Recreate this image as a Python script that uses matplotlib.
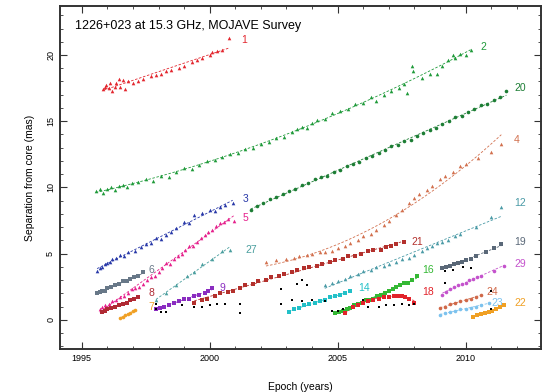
import numpy as np
import matplotlib
matplotlib.use('Agg')
import matplotlib.pyplot as plt
from matplotlib.ticker import MultipleLocator

plt.rcParams['font.family'] = ['Liberation Sans', 'DejaVu Sans']

# component positions: epoch (yr) and separation from core (mas)
c1_yr = [1995.85, 1995.9, 1995.95, 1996.05, 1996.1, 1996.2, 1996.3, 1996.35, 1996.45, 1996.5,
         1996.6, 1996.7, 1996.8, 1997.0, 1997.2, 1997.4, 1997.7, 1997.9, 1998.1, 1998.3,
         1998.5, 1998.8, 1999.0, 1999.3, 1999.5, 1999.7, 2000.0, 2000.1, 2000.3, 2000.5,
         2000.75]
c1_sep = [17.4, 17.6, 17.7, 17.5, 17.9, 17.3, 17.6, 17.9, 18.2, 17.6,
          18.1, 17.4, 18.0, 17.9, 18.0, 18.2, 18.4, 18.5, 18.6, 18.8,
          18.9, 19.0, 19.2, 19.5, 19.6, 19.8, 20.0, 20.2, 20.3, 20.4,
          21.3]

c2_yr = [1995.55, 1995.7, 1995.85, 1996.0, 1996.15, 1996.3, 1996.45, 1996.6, 1996.75, 1996.95,
         1997.2, 1997.5, 1997.8, 1998.1, 1998.4, 1998.7, 1999.0, 1999.3, 1999.6, 1999.9,
         2000.2, 2000.5, 2000.8, 2001.1, 2001.4, 2001.7, 2002.0, 2002.3, 2002.6, 2002.9,
         2003.2, 2003.4, 2003.6, 2003.8, 2004.0, 2004.2, 2004.5, 2004.8, 2005.1, 2005.4,
         2005.7, 2006.0, 2006.3, 2006.5, 2006.8, 2007.1, 2007.4, 2007.6, 2007.7, 2007.9,
         2007.95, 2008.3, 2008.6, 2008.9, 2009.1, 2009.3, 2009.5, 2009.6, 2009.8, 2010.0,
         2010.2]
c2_sep = [9.7, 9.9, 9.6, 9.9, 10.0, 9.8, 10.1, 10.2, 10.0, 10.3,
          10.4, 10.6, 10.5, 10.9, 10.8, 11.2, 11.5, 11.4, 11.7, 12.0,
          12.1, 12.3, 12.5, 12.6, 12.9, 13.0, 13.3, 13.4, 13.7, 13.8,
          14.2, 14.4, 14.6, 14.5, 14.9, 15.1, 15.2, 15.6, 15.8, 15.9,
          16.3, 16.4, 16.8, 16.5, 17.0, 17.3, 17.5, 17.8, 17.1, 19.2,
          18.8, 18.3, 18.6, 18.6, 19.2, 19.6, 20.0, 19.8, 20.1, 20.0,
          20.4]

c20_yr = [2001.6, 2001.85, 2002.1, 2002.35, 2002.6, 2002.85, 2003.1, 2003.35, 2003.6, 2003.85,
          2004.1, 2004.35, 2004.6, 2004.85, 2005.1, 2005.35, 2005.6, 2005.85, 2006.1, 2006.35,
          2006.6, 2006.85, 2007.1, 2007.35, 2007.6, 2007.85, 2008.1, 2008.35, 2008.6, 2008.85,
          2009.1, 2009.35, 2009.6, 2009.85, 2010.1, 2010.35, 2010.6, 2010.85, 2011.1, 2011.35,
          2011.6]
c20_sep = [8.3, 8.6, 8.8, 9.1, 9.3, 9.5, 9.7, 9.9, 10.2, 10.3,
           10.6, 10.8, 10.9, 11.2, 11.3, 11.6, 11.8, 11.9, 12.2, 12.4,
           12.6, 12.8, 13.1, 13.2, 13.5, 13.6, 13.9, 14.1, 14.3, 14.5,
           14.8, 15.0, 15.3, 15.4, 15.7, 15.9, 16.2, 16.3, 16.6, 16.8,
           17.3]

c3_yr = [1995.6, 1995.7, 1995.8, 1995.9, 1996.0, 1996.1, 1996.2, 1996.35, 1996.5, 1996.65,
         1996.8, 1997.1, 1997.3, 1997.5, 1997.7, 1997.9, 1998.1, 1998.3, 1998.5, 1998.7,
         1999.0, 1999.2, 1999.4, 1999.7, 2000.0, 2000.2, 2000.4, 2000.6, 2000.9]
c3_sep = [3.7, 3.9, 4.0, 4.2, 4.3, 4.4, 4.6, 4.7, 4.9, 4.8,
          5.1, 5.2, 5.5, 5.7, 5.8, 6.2, 6.1, 6.4, 6.6, 6.9,
          7.4, 7.3, 7.9, 8.1, 8.3, 8.2, 8.5, 8.7, 8.8]

c5_yr = [1995.7, 1995.8, 1995.9, 1996.05, 1996.2, 1996.35, 1996.5, 1996.65, 1996.8, 1996.95,
         1997.1, 1997.25, 1997.4, 1997.55, 1997.7, 1997.85, 1998.0, 1998.15, 1998.3, 1998.45,
         1998.6, 1998.75, 1998.9, 1999.05, 1999.2, 1999.35, 1999.5, 1999.65, 1999.8, 1999.95,
         2000.1, 2000.25, 2000.4, 2000.55, 2000.7, 2000.95]
c5_sep = [0.8, 1.0, 1.1, 1.2, 1.4, 1.5, 1.7, 1.8, 2.0, 2.3,
          2.4, 2.5, 2.7, 3.0, 3.2, 3.3, 3.6, 3.9, 4.3, 4.2,
          4.6, 4.8, 5.0, 5.3, 5.6, 5.6, 5.9, 6.2, 6.4, 6.6,
          6.8, 7.1, 7.3, 7.4, 7.6, 7.5]

c27_yr = [1997.9, 1998.3, 1998.7, 1999.1, 1999.4, 1999.7, 2000.1, 2000.5, 2000.8]
c27_sep = [1.5, 2.0, 2.6, 3.3, 3.6, 4.2, 4.6, 5.2, 5.3]

c6_yr = [1995.6, 1995.7, 1995.8, 1995.9, 1996.0, 1996.15, 1996.3, 1996.45, 1996.6, 1996.75,
         1996.9, 1997.05, 1997.2, 1997.4]
c6_sep = [2.0, 2.1, 2.2, 2.2, 2.4, 2.5, 2.6, 2.7, 2.9, 2.9,
          3.1, 3.2, 3.3, 3.6]

c8_yr = [1995.8, 1995.9, 1996.0, 1996.15, 1996.3, 1996.45, 1996.6, 1996.75, 1996.9, 1997.05,
         1997.2]
c8_sep = [0.6, 0.7, 0.8, 0.9, 1.0, 1.1, 1.2, 1.3, 1.5, 1.6, 1.7]

c7_yr = [1996.5, 1996.6, 1996.7, 1996.8, 1996.9, 1997.0, 1997.1]
c7_sep = [0.15, 0.25, 0.35, 0.45, 0.55, 0.65, 0.75]

c9_yr = [1997.9, 1998.05, 1998.2, 1998.4, 1998.6, 1998.8, 1999.0, 1999.2, 1999.4, 1999.6,
         1999.8, 1999.95, 2000.1]
c9_sep = [0.8, 0.9, 1.0, 1.1, 1.3, 1.4, 1.6, 1.6, 1.8, 1.9, 2.0, 2.2, 2.4]

c21_yr = [1999.4, 1999.7, 1999.9, 2000.2, 2000.4, 2000.7, 2000.9, 2001.2, 2001.4, 2001.7,
          2001.9, 2002.2, 2002.4, 2002.7, 2002.9, 2003.2, 2003.4, 2003.7, 2003.9, 2004.2,
          2004.4, 2004.7, 2004.9, 2005.2, 2005.4, 2005.7, 2005.9, 2006.2, 2006.4, 2006.7,
          2006.9, 2007.1, 2007.3, 2007.6]
c21_sep = [1.3, 1.5, 1.6, 1.8, 2.0, 2.1, 2.2, 2.4, 2.6, 2.7,
           2.9, 3.0, 3.2, 3.3, 3.5, 3.6, 3.8, 3.9, 4.0, 4.1,
           4.2, 4.4, 4.5, 4.6, 4.8, 4.8, 5.0, 5.2, 5.3, 5.3,
           5.5, 5.6, 5.7, 5.9]

c4_yr = [2002.2, 2002.6, 2003.0, 2003.3, 2003.5, 2003.8, 2004.0, 2004.3, 2004.5, 2004.8,
         2005.0, 2005.3, 2005.5, 2005.8, 2006.0, 2006.3, 2006.5, 2006.8, 2007.0, 2007.3,
         2007.5, 2007.8, 2008.0, 2008.2, 2008.5, 2008.7, 2009.0, 2009.2, 2009.5, 2009.8,
         2010.0, 2010.5, 2011.0, 2011.4]
c4_sep = [4.4, 4.5, 4.6, 4.7, 4.8, 4.9, 5.0, 5.1, 5.1, 5.2,
          5.4, 5.6, 5.8, 6.0, 6.3, 6.5, 6.8, 7.2, 7.5, 7.9,
          8.3, 8.8, 9.2, 9.5, 9.8, 10.1, 10.6, 10.9, 11.2, 11.6,
          11.8, 12.2, 12.7, 13.3]

c12_yr = [2004.5, 2004.8, 2005.0, 2005.3, 2005.5, 2005.8, 2006.0, 2006.3, 2006.5, 2006.8,
          2007.0, 2007.3, 2007.5, 2007.8, 2008.0, 2008.3, 2008.5, 2008.7, 2008.9, 2009.1,
          2009.3, 2009.6, 2009.8, 2010.4, 2011.0, 2011.4]
c12_sep = [2.6, 2.8, 2.9, 3.1, 3.3, 3.5, 3.7, 3.8, 4.0, 4.1,
           4.2, 4.4, 4.6, 4.7, 4.9, 5.2, 5.4, 5.6, 5.8, 5.9,
           6.0, 6.3, 6.5, 7.0, 7.8, 8.5]

c19_yr = [2009.1, 2009.25, 2009.4, 2009.55, 2009.7, 2009.85, 2010.0, 2010.2, 2010.4, 2010.8,
          2011.1, 2011.4]
c19_sep = [3.9, 4.0, 4.1, 4.2, 4.3, 4.4, 4.5, 4.6, 4.8, 5.1, 5.4, 5.7]

c29_yr = [2009.1, 2009.25, 2009.4, 2009.55, 2009.7, 2009.85, 2010.0, 2010.15, 2010.3, 2010.45,
          2010.6, 2011.1, 2011.5]
c29_sep = [1.9, 2.1, 2.3, 2.5, 2.6, 2.7, 2.8, 3.0, 3.1, 3.2, 3.3, 3.7, 4.1]

c16_yr = [2004.9, 2005.05, 2005.2, 2005.35, 2005.5, 2005.65, 2005.8, 2005.95, 2006.1, 2006.25,
          2006.4, 2006.55, 2006.7, 2006.85, 2007.0, 2007.15, 2007.3, 2007.45, 2007.6, 2007.75,
          2007.9, 2008.1]
c16_sep = [0.5, 0.6, 0.7, 0.8, 0.9, 1.1, 1.2, 1.3, 1.5, 1.5,
           1.6, 1.8, 1.9, 2.0, 2.2, 2.3, 2.5, 2.6, 2.8, 2.8,
           3.0, 3.3]

c18_yr = [2005.3, 2005.6, 2005.8, 2006.0, 2006.2, 2006.4, 2006.6, 2006.8, 2007.0, 2007.2,
          2007.35, 2007.5, 2007.65, 2007.8, 2008.0]
c18_sep = [0.5, 1.0, 1.1, 1.3, 1.4, 1.5, 1.6, 1.7, 1.7, 1.8,
           1.8, 1.8, 1.7, 1.6, 1.3]

c24_yr = [2009.0, 2009.2, 2009.4, 2009.6, 2009.8, 2010.0, 2010.2, 2010.4, 2010.6]
c24_sep = [0.9, 1.0, 1.2, 1.3, 1.4, 1.5, 1.6, 1.7, 1.9]

c23_yr = [2009.0, 2009.2, 2009.4, 2009.6, 2009.8, 2010.0, 2010.2, 2010.4, 2010.6, 2010.9]
c23_sep = [0.4, 0.5, 0.6, 0.7, 0.8, 0.8, 0.9, 1.0, 1.1, 1.3]

c22_yr = [2010.3, 2010.45, 2010.6, 2010.75, 2010.9, 2011.05, 2011.2, 2011.35, 2011.5]
c22_sep = [0.25, 0.35, 0.45, 0.5, 0.6, 0.7, 0.8, 0.95, 1.1]

c14_yr = [2003.1, 2003.3, 2003.5, 2003.7, 2003.9, 2004.1, 2004.3, 2004.5, 2004.7, 2004.9,
          2005.1, 2005.3, 2005.5]
c14_sep = [0.6, 0.8, 0.9, 1.1, 1.2, 1.3, 1.4, 1.5, 1.7, 1.8, 1.9, 2.0, 2.2]

# unlabelled / short-lived features
misc_yr = [1997.9, 1997.9, 1998.1, 1998.3, 1998.9, 1999.4, 1999.7, 2000.0, 2000.3, 2000.6,
           2001.2, 2001.2, 2002.8, 2002.8, 2003.4, 2003.6, 2003.8, 2003.2, 2003.6, 2004.0,
           2004.5, 2004.8, 2005.0, 2005.2, 2006.0, 2006.2, 2006.6, 2006.9, 2007.2, 2007.5,
           2007.8, 2008.0, 2009.2, 2009.5, 2009.9, 2010.2, 2009.2, 2011.0, 2011.0]
misc_sep = [1.2, 0.8, 0.6, 0.6, 1.1, 1.0, 1.0, 1.1, 1.2, 1.2,
            1.2, 0.5, 2.3, 1.2, 2.7, 3.0, 2.6, 1.5, 1.4, 1.5,
            1.4, 0.7, 0.7, 0.8, 1.5, 1.0, 1.0, 1.1, 1.1, 1.2,
            1.1, 1.2, 3.7, 3.8, 4.0, 3.9, 2.8, 2.2, 0.8]

# name, epochs, separations, colour, marker, fit order, label position
components = [
    ('1', c1_yr, c1_sep, '#e3262e', '^', 1, (2001.25, 21.1)),
    ('2', c2_yr, c2_sep, '#1f9a3a', '^', 2, (2010.6, 20.6)),
    ('20', c20_yr, c20_sep, '#1c7d34', 'o', 1, (2011.9, 17.5)),
    ('3', c3_yr, c3_sep, '#2838a8', '^', 1, (2001.3, 9.1)),
    ('5', c5_yr, c5_sep, '#e5208c', '^', 1, (2001.3, 7.7)),
    ('27', c27_yr, c27_sep, '#4a9e9e', '^', 1, (2001.4, 5.3)),
    ('6', c6_yr, c6_sep, '#687888', 's', 1, (1997.6, 3.8)),
    ('8', c8_yr, c8_sep, '#b02a34', 's', 1, (1997.6, 2.0)),
    ('7', c7_yr, c7_sep, '#f0a024', 'o', 1, (1997.6, 1.0)),
    ('9', c9_yr, c9_sep, '#8a2cc0', 's', 1, (2000.4, 2.4)),
    ('21', c21_yr, c21_sep, '#b3302c', 's', 1, (2007.9, 5.9)),
    ('4', c4_yr, c4_sep, '#d2704e', '^', 2, (2011.9, 13.6)),
    ('12', c12_yr, c12_sep, '#4a9aa6', '^', 1, (2011.9, 8.8)),
    ('19', c19_yr, c19_sep, '#5a6878', 's', 1, (2011.9, 5.9)),
    ('29', c29_yr, c29_sep, '#c452cc', 'o', 1, (2011.9, 4.2)),
    ('16', c16_yr, c16_sep, '#34b834', 's', 1, (2008.3, 3.8)),
    ('18', c18_yr, c18_sep, '#e2222a', 's', 2, (2008.3, 2.1)),
    ('24', c24_yr, c24_sep, '#d06848', 'o', 1, (2010.8, 2.1)),
    ('23', c23_yr, c23_sep, '#7cc2ee', 'o', 1, (2011.0, 1.3)),
    ('22', c22_yr, c22_sep, '#f0a024', 's', 1, (2011.9, 1.3)),
    ('14', c14_yr, c14_sep, '#22c0c8', 's', 1, (2005.8, 2.4)),
]

fig = plt.figure(figsize=(5.47, 3.92), dpi=100)
ax = fig.add_axes([0.1097, 0.1097, 0.8793, 0.875])

for name, yr, sep, col, mk, order, lpos in components:
    yr = np.asarray(yr)
    sep = np.asarray(sep)
    coef = np.polyfit(yr, sep, order)
    tt = np.linspace(yr.min(), yr.max(), 50)
    ax.plot(tt, np.polyval(coef, tt), '--', color=col, lw=0.6, dashes=(3, 2), zorder=2)
    ax.plot(yr, sep, mk, color=col, ms=2.6, mew=0, zorder=3)
    ax.text(lpos[0], lpos[1], name, color=col, fontsize=7.5, ha='left', va='center')

ax.plot(misc_yr, misc_sep, 's', color='black', ms=2.0, mew=0, zorder=3)

ax.set_xlim(1994.15, 2012.95)
ax.set_ylim(-2.2, 23.7)
ax.xaxis.set_major_locator(MultipleLocator(5))
ax.xaxis.set_minor_locator(MultipleLocator(1))
ax.yaxis.set_major_locator(MultipleLocator(5))
ax.yaxis.set_minor_locator(MultipleLocator(1))
ax.tick_params(which='both', direction='in', top=True, right=True, labelsize=6.5, color='#333333')
ax.tick_params(which='major', length=5, width=0.8)
ax.tick_params(which='minor', length=2.5, width=0.6)
for lab in ax.get_yticklabels():
    lab.set_rotation(90)
    lab.set_va('center')
for sp in ax.spines.values():
    sp.set_linewidth(1.4)
    sp.set_color('#333333')

ax.set_xlabel('Epoch (years)', fontsize=7.5, labelpad=14)
ax.set_ylabel('Separation from core (mas)', fontsize=7.5, labelpad=8)
ax.text(0.032, 0.942, '1226+023 at 15.3 GHz, MOJAVE Survey', transform=ax.transAxes,
        fontsize=9, ha='left', va='center')

fig.savefig('out.png', dpi=100)
